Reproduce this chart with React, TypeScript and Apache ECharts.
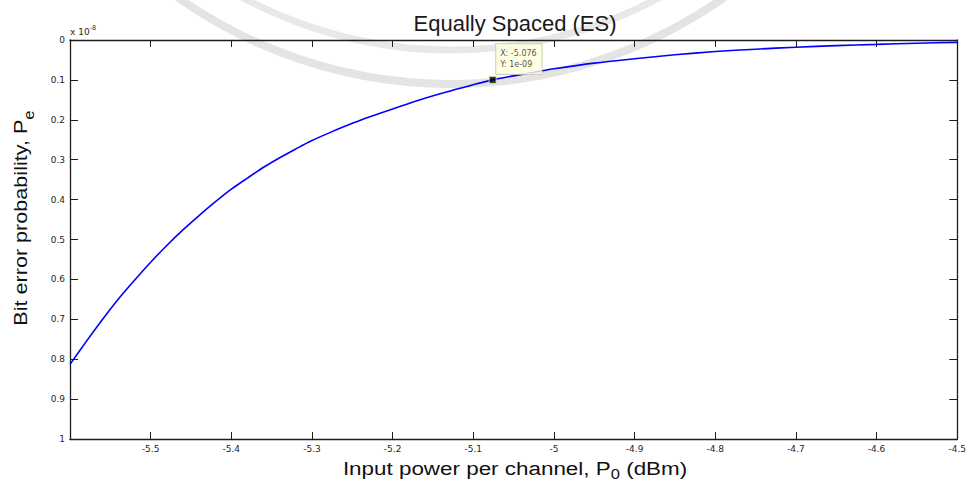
import React, { useEffect, useRef } from "react";
import * as echarts from "echarts";

// Input power per channel P0 (dBm)
const inputPower = [
  -5.6, -5.58, -5.56, -5.54, -5.52, -5.5, -5.48, -5.46, -5.44, -5.42, -5.4,
  -5.38, -5.36, -5.34, -5.32, -5.3, -5.28, -5.26, -5.24, -5.22, -5.2, -5.18,
  -5.16, -5.14, -5.12, -5.1, -5.076, -5.05, -5.02, -5.0, -4.95, -4.9, -4.85,
  -4.8, -4.75, -4.7, -4.65, -4.6, -4.55, -4.5,
];
// Bit error probability Pe, in units of 1e-8
const bitErrorProb = [
  0.813, 0.756, 0.701, 0.649, 0.602, 0.557, 0.515, 0.476, 0.44, 0.406, 0.374,
  0.346, 0.319, 0.295, 0.273, 0.252, 0.234, 0.217, 0.201, 0.187, 0.173, 0.159,
  0.146, 0.134, 0.123, 0.112, 0.1, 0.09, 0.079, 0.072, 0.058, 0.047, 0.037,
  0.029, 0.023, 0.018, 0.014, 0.011, 0.008, 0.006,
];
const dataTipPoint = [-5.076, 0.1];
const dataTipLines = ["X: -5.076", "Y: 1e-09"];
const titleText = "Equally Spaced (ES)";
const xLabelMain = "Input power per channel, P";
const xLabelSub = "0";
const xLabelTail = " (dBm)";
const yLabelMain = "Bit error probability, P";
const yLabelSub = "e";
const yScaleBase = "x 10";
const yScaleExp = "-8";

const AXIS = "#1e1e1e";
const TXT = "#262626";

export default function App() {
  const ref = useRef<HTMLDivElement>(null);
  useEffect(() => {
    if (!ref.current) return;
    const chart = echarts.init(ref.current, null, { renderer: "svg" });
    const lineData = inputPower.map((x, i) => [x, bitErrorProb[i]]);
    const fmtX = (v: number) => String(Math.round(v * 10) / 10);
    const fmtY = (v: number) => String(Math.round(v * 10) / 10);
    const xBase: any = {
      type: "value",
      min: -5.6,
      max: -4.5,
      interval: 0.1,
      splitLine: { show: false },
      axisLine: { show: true, onZero: false, lineStyle: { color: AXIS, width: 1.3 } },
      axisTick: { show: true, inside: true, length: 7, lineStyle: { color: AXIS, width: 1 } },
    };
    const yBase: any = {
      type: "value",
      min: 0,
      max: 1,
      interval: 0.1,
      inverse: true,
      splitLine: { show: false },
      axisLine: { show: true, onZero: false, lineStyle: { color: AXIS, width: 1.3 } },
      axisTick: { show: true, inside: true, length: 8, lineStyle: { color: AXIS, width: 1 } },
    };
    chart.setOption({
      animation: false,
      backgroundColor: "#ffffff",
      grid: { left: 70, right: 7, top: 40, bottom: 43, containLabel: false },
      xAxis: [
        {
          ...xBase,
          position: "bottom",
          axisLabel: {
            show: true,
            showMinLabel: false,
            formatter: fmtX,
            fontFamily: "DejaVu Sans",
            fontSize: 9,
            color: TXT,
            margin: 5,
          },
        },
        { ...xBase, position: "top", axisLabel: { show: false } },
      ],
      yAxis: [
        {
          ...yBase,
          position: "left",
          axisLabel: {
            show: true,
            formatter: fmtY,
            fontFamily: "DejaVu Sans",
            fontSize: 9,
            color: TXT,
            margin: 5,
          },
        },
        { ...yBase, position: "right", axisLabel: { show: false } },
      ],
      graphic: [
        {
          type: "arc",
          silent: true,
          z: -5,
          shape: { cx: 451, cy: -390, r: 474, startAngle: Math.PI / 2 - 0.72, endAngle: Math.PI / 2 + 0.72 },
          style: { stroke: "#e4e4e4", lineWidth: 8, fill: null },
        },
        {
          type: "arc",
          silent: true,
          z: -5,
          shape: { cx: 451, cy: -390, r: 440, startAngle: Math.PI / 2 - 0.6, endAngle: Math.PI / 2 + 0.6 },
          style: { stroke: "#e8e8e8", lineWidth: 7, fill: null },
        },
        {
          type: "text",
          x: 515,
          y: 23,
          silent: true,
          style: {
            text: titleText,
            fontFamily: "Liberation Sans",
            fontSize: 22,
            fill: "#1a1a1a",
            align: "center",
            verticalAlign: "middle",
          },
        },
        {
          type: "text",
          x: 515,
          y: 468,
          scaleX: 1.18,
          silent: true,
          style: {
            text: `{a|${xLabelMain}}{b|${xLabelSub}}{a|${xLabelTail}}`,
            align: "center",
            verticalAlign: "middle",
            rich: {
              a: { fontFamily: "Liberation Sans", fontSize: 19, fill: "#111" },
              b: { fontFamily: "Liberation Sans", fontSize: 14, fill: "#111", padding: [12, 0, 0, 0] },
            },
          },
        },
        {
          type: "text",
          x: 21,
          y: 218,
          rotation: Math.PI / 2,
          scaleX: 1.2,
          silent: true,
          style: {
            text: `{a|${yLabelMain}}{b|${yLabelSub}}`,
            align: "center",
            verticalAlign: "middle",
            rich: {
              a: { fontFamily: "Liberation Sans", fontSize: 18, fill: "#111" },
              b: { fontFamily: "Liberation Sans", fontSize: 14, fill: "#111", padding: [16, 0, 0, 0] },
            },
          },
        },
        {
          type: "text",
          x: 70,
          y: 32,
          silent: true,
          style: {
            text: `{a|${yScaleBase}}{b|${yScaleExp}}`,
            align: "left",
            verticalAlign: "middle",
            rich: {
              a: { fontFamily: "DejaVu Sans", fontSize: 9, fill: TXT },
              b: { fontFamily: "DejaVu Sans", fontSize: 6.5, fill: TXT, padding: [0, 0, 9, 0] },
            },
          },
        },
      ],
      series: [
        {
          type: "line",
          data: lineData,
          xAxisIndex: 0,
          yAxisIndex: 0,
          symbol: "none",
          showSymbol: false,
          smooth: 0.3,
          lineStyle: { color: "#0000ff", width: 1.6 },
          z: 3,
          silent: true,
        },
        {
          type: "scatter",
          data: [dataTipPoint],
          xAxisIndex: 0,
          yAxisIndex: 0,
          symbol: "rect",
          symbolSize: 7,
          itemStyle: { color: "#000000", borderColor: "#eeeeb0", borderWidth: 1 },
          z: 5,
          silent: true,
          label: {
            show: true,
            position: [7.5, -32],
            align: "left",
            verticalAlign: "top",
            formatter: dataTipLines.join("\n"),
            fontFamily: "DejaVu Sans",
            fontSize: 8,
            lineHeight: 11,
            color: "#222",
            backgroundColor: "#ffffe0",
            borderColor: "#c9c9b4",
            borderWidth: 1,
            padding: [4, 5, 4, 4],
          },
        },
      ],
    });
    return () => chart.dispose();
  }, []);
  return (
    <div
      ref={ref}
      style={{ position: "fixed", left: 0, top: 0, width: 969, height: 482 }}
    />
  );
}
